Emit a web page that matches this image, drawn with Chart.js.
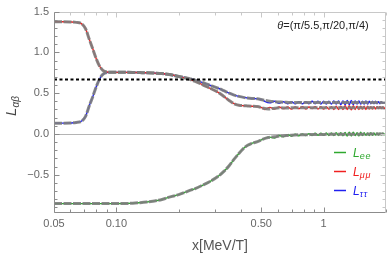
<!DOCTYPE html>
<html>
<head>
<meta charset="utf-8">
<script src="https://cdn.jsdelivr.net/npm/chart.js@4.4.1/dist/chart.umd.min.js"></script>
<style>
  html, body { margin: 0; padding: 0; background: #fff; }
  #wrap { width: 390px; height: 257px; }
</style>
</head>
<body>
<div id="wrap"><canvas id="chart" width="390" height="257"></canvas></div>
<script>
// smooth (averaged) curves, x in MeV/T
const xSmooth = [0.05, 0.055, 0.06, 0.064, 0.068, 0.071, 0.074, 0.077, 0.08, 0.083,
  0.086, 0.089, 0.092, 0.096, 0.1, 0.11, 0.12, 0.13, 0.14, 0.15,
  0.166, 0.18, 0.2, 0.215, 0.228, 0.24, 0.26, 0.28, 0.31, 0.33,
  0.35, 0.37, 0.39, 0.41, 0.43, 0.45, 0.48, 0.51, 0.54, 0.58,
  0.62, 0.66, 0.7, 0.8, 0.9, 1.0, 1.2, 1.4, 1.6, 1.8, 2.0];
const muSmooth = [1.375, 1.375, 1.373, 1.368, 1.35, 1.29, 1.16, 1.04, 0.92, 0.83,
  0.78, 0.762, 0.757, 0.756, 0.755, 0.755, 0.754, 0.752, 0.75, 0.747,
  0.74, 0.728, 0.705, 0.685, 0.665, 0.645, 0.605, 0.565, 0.51, 0.46,
  0.41, 0.37, 0.352, 0.346, 0.343, 0.34, 0.335, 0.315, 0.305, 0.315,
  0.32, 0.318, 0.32, 0.32, 0.32, 0.32, 0.32, 0.32, 0.32, 0.32, 0.32];
const tauSmooth = [0.132, 0.132, 0.134, 0.14, 0.158, 0.215, 0.345, 0.46, 0.58, 0.675,
  0.73, 0.75, 0.755, 0.756, 0.755, 0.755, 0.754, 0.752, 0.75, 0.747,
  0.74, 0.728, 0.705, 0.69, 0.675, 0.66, 0.63, 0.6, 0.56, 0.53,
  0.5, 0.475, 0.46, 0.448, 0.44, 0.435, 0.43, 0.415, 0.405, 0.395,
  0.39, 0.388, 0.385, 0.385, 0.385, 0.385, 0.385, 0.385, 0.385, 0.385, 0.385];
const eeSmooth = [-0.855, -0.855, -0.855, -0.855, -0.855, -0.855, -0.855, -0.855, -0.855, -0.855,
  -0.855, -0.855, -0.855, -0.855, -0.855, -0.853, -0.85, -0.843, -0.835, -0.825,
  -0.805, -0.775, -0.745, -0.715, -0.69, -0.67, -0.63, -0.59, -0.52, -0.46,
  -0.39, -0.31, -0.24, -0.18, -0.14, -0.115, -0.095, -0.065, -0.045, -0.035,
  -0.025, -0.02, -0.015, -0.01, -0.008, -0.006, -0.005, -0.004, -0.003, -0.002, -0.002];

// oscillating tail of the coloured curves
const xTail = [0.52, 0.55, 0.58, 0.61, 0.64, 0.67, 0.70, 0.73, 0.76, 0.79,
  0.82, 0.85, 0.88, 0.91, 0.94, 0.97, 1.00, 1.03, 1.06, 1.09,
  1.12, 1.15, 1.18, 1.21, 1.24, 1.27, 1.30, 1.33, 1.36, 1.39,
  1.42, 1.45, 1.48, 1.51, 1.54, 1.57, 1.60, 1.63, 1.66, 1.69,
  1.72, 1.75, 1.78, 1.81, 1.84, 1.87, 1.90, 1.93, 1.96, 1.99];
const eeTail = [-0.055, -0.04, -0.05, -0.02, -0.035, -0.01, -0.028, -0.004, -0.024, 0.0,
  -0.02, 0.004, -0.02, 0.008, -0.018, 0.01, -0.018, 0.012, -0.02, 0.012,
  -0.02, 0.015, -0.02, 0.015, -0.022, 0.018, -0.025, 0.02, -0.025, 0.02,
  -0.02, 0.015, -0.025, 0.02, -0.02, 0.015, -0.018, 0.012, -0.02, 0.015,
  -0.018, 0.012, -0.015, 0.012, -0.015, 0.01, -0.012, 0.01, -0.01, 0.006];
const muTail = [0.30, 0.325, 0.305, 0.33, 0.31, 0.33, 0.305, 0.33, 0.31, 0.335,
  0.305, 0.33, 0.31, 0.335, 0.305, 0.335, 0.305, 0.335, 0.305, 0.335,
  0.30, 0.34, 0.30, 0.34, 0.30, 0.345, 0.30, 0.345, 0.295, 0.345,
  0.30, 0.34, 0.30, 0.34, 0.305, 0.34, 0.30, 0.34, 0.305, 0.335,
  0.305, 0.335, 0.305, 0.335, 0.31, 0.335, 0.31, 0.33, 0.31, 0.33];
const tauTail = [0.40, 0.38, 0.40, 0.375, 0.395, 0.37, 0.395, 0.37, 0.395, 0.37,
  0.395, 0.37, 0.40, 0.37, 0.40, 0.365, 0.40, 0.365, 0.40, 0.365,
  0.405, 0.365, 0.405, 0.36, 0.405, 0.36, 0.41, 0.36, 0.41, 0.36,
  0.405, 0.365, 0.405, 0.365, 0.40, 0.365, 0.405, 0.365, 0.40, 0.37,
  0.40, 0.37, 0.40, 0.37, 0.395, 0.37, 0.395, 0.375, 0.395, 0.375];

const dottedLevel = 0.667;
const xMin = 0.05, xMax = 2;
const yMin = -0.97, yMax = 1.5;
const xTicks = [0.05, 0.06, 0.07, 0.08, 0.09, 0.1, 0.2, 0.3, 0.4, 0.5, 0.6, 0.7, 0.8, 0.9, 1, 2];
const xMajor = [0.05, 0.1, 0.5, 1];
const xMajorLabels = ['0.05', '0.10', '0.50', '1'];
const yTicks = [-0.9, -0.8, -0.7, -0.6, -0.5, -0.4, -0.3, -0.2, -0.1, 0,
  0.1, 0.2, 0.3, 0.4, 0.5, 0.6, 0.7, 0.8, 0.9, 1.0, 1.1, 1.2, 1.3, 1.4, 1.5];
const yMajor = [-0.5, 0, 0.5, 1, 1.5];
const yMajorLabels = ['\u22120.5', '0.0', '0.5', '1.0', '1.5'];
const seriesSubs = ['ee', '\u03bc\u03bc', '\u03c4\u03c4'];
const seriesColors = ['#2ea82e', '#f02020', '#2020f0'];
const annotation = ['\u03b8', '=(\u03c0/5.5,\u03c0/20,\u03c0/4)'];

const FONT = '"Liberation Sans", Arial, sans-serif';

function findIdx(list, v) {
  return list.findIndex(t => Math.abs(t - v) < 1e-9);
}

function coloured(smooth, tail) {
  const pts = [];
  xSmooth.forEach((x, i) => { if (x < xTail[0]) pts.push({ x: x, y: smooth[i] }); });
  xTail.forEach((x, i) => pts.push({ x: x, y: tail[i] }));
  return pts;
}
function smooth(vals) {
  return xSmooth.map((x, i) => ({ x: x, y: vals[i] }));
}

const grayStyle = {
  borderColor: 'rgba(125,125,125,0.9)', borderWidth: 3, borderDash: [8, 1.5],
  pointRadius: 0, cubicInterpolationMode: 'monotone', order: 1
};
const colStyle = (c) => ({ borderColor: c, borderWidth: 1.4, pointRadius: 0, cubicInterpolationMode: 'monotone', order: 2 });

const datasets = [
  { data: [{ x: xMin, y: dottedLevel }, { x: xMax, y: dottedLevel }], borderColor: '#000', borderWidth: 2,
    borderDash: [3, 2.5], pointRadius: 0, order: 0 },
  Object.assign({ data: smooth(eeSmooth) }, grayStyle),
  Object.assign({ data: smooth(muSmooth) }, grayStyle),
  Object.assign({ data: smooth(tauSmooth) }, grayStyle),
  Object.assign({ data: coloured(eeSmooth, eeTail) }, colStyle(seriesColors[0])),
  Object.assign({ data: coloured(muSmooth, muTail) }, colStyle(seriesColors[1])),
  Object.assign({ data: coloured(tauSmooth, tauTail) }, colStyle(seriesColors[2]))
];

const framePlugin = {
  id: 'frame',
  beforeDatasetsDraw(chart) {
    const { ctx, chartArea: a, scales: { y } } = chart;
    const y0 = Math.round(y.getPixelForValue(0)) + 0.5;
    ctx.save();
    ctx.strokeStyle = '#b4b4b4';
    ctx.lineWidth = 1;
    ctx.beginPath(); ctx.moveTo(a.left, y0); ctx.lineTo(a.right, y0); ctx.stroke();
    ctx.restore();
  },
  afterDatasetsDraw(chart) {
    const { ctx, chartArea: a, scales: { x, y } } = chart;
    const L = Math.round(a.left) + 0.5, R = Math.round(a.right) - 0.5;
    const T = Math.round(a.top) + 0.5, B = Math.round(a.bottom) - 0.5;
    ctx.save();
    ctx.lineWidth = 1;
    // light top and right frame
    ctx.strokeStyle = '#c8c8c8';
    ctx.beginPath(); ctx.moveTo(L, T); ctx.lineTo(R, T); ctx.lineTo(R, B); ctx.stroke();
    xTicks.forEach(v => {
      const px = Math.round(x.getPixelForValue(v)) + 0.5;
      const len = findIdx(xMajor, v) >= 0 ? 5 : 3;
      ctx.beginPath(); ctx.moveTo(px, T); ctx.lineTo(px, T + len); ctx.stroke();
    });
    yTicks.forEach(v => {
      const py = Math.round(y.getPixelForValue(v)) + 0.5;
      const len = findIdx(yMajor, v) >= 0 ? 5 : 3;
      ctx.beginPath(); ctx.moveTo(R, py); ctx.lineTo(R - len, py); ctx.stroke();
    });
    // darker left and bottom axes
    ctx.strokeStyle = '#8c8c8c';
    ctx.beginPath(); ctx.moveTo(L, T); ctx.lineTo(L, B); ctx.lineTo(R, B); ctx.stroke();
    xTicks.forEach(v => {
      const px = Math.round(x.getPixelForValue(v)) + 0.5;
      const len = findIdx(xMajor, v) >= 0 ? 5 : 3;
      ctx.beginPath(); ctx.moveTo(px, B); ctx.lineTo(px, B - len); ctx.stroke();
    });
    yTicks.forEach(v => {
      const py = Math.round(y.getPixelForValue(v)) + 0.5;
      const len = findIdx(yMajor, v) >= 0 ? 5 : 3;
      ctx.beginPath(); ctx.moveTo(L, py); ctx.lineTo(L + len, py); ctx.stroke();
    });

    // theta annotation
    ctx.fillStyle = '#222';
    ctx.textBaseline = 'alphabetic';
    ctx.font = 'italic 11px ' + FONT;
    const w1 = ctx.measureText(annotation[0]).width;
    ctx.font = '11px ' + FONT;
    const w2 = ctx.measureText(annotation[1]).width;
    let tx = 323 - (w1 + w2) / 2;
    ctx.font = 'italic 11px ' + FONT;
    ctx.fillText(annotation[0], tx, 29);
    ctx.font = '11px ' + FONT;
    ctx.fillText(annotation[1], tx + w1, 29);

    // legend
    seriesSubs.forEach((s, i) => {
      const ly = 152 + 19 * i;
      ctx.strokeStyle = seriesColors[i];
      ctx.lineWidth = 1.5;
      ctx.beginPath(); ctx.moveTo(334, ly + 0.5); ctx.lineTo(346, ly + 0.5); ctx.stroke();
      ctx.fillStyle = seriesColors[i];
      ctx.font = 'italic 12px ' + FONT;
      ctx.fillText('L', 353, ly + 4.5);
      let cx = 353 + ctx.measureText('L').width;
      ctx.font = 'italic 9px ' + FONT;
      for (const ch of s) {
        ctx.fillText(ch, cx, ly + 7);
        cx += ctx.measureText(ch).width + 0.8;
      }
    });

    // y title
    ctx.fillStyle = '#444';
    ctx.save();
    ctx.translate(16, 106);
    ctx.rotate(-Math.PI / 2);
    ctx.font = 'italic 15px ' + FONT;
    const wL = ctx.measureText('L').width;
    ctx.font = 'italic 10px ' + FONT;
    const wS = ctx.measureText('\u03b1\u03b2').width;
    const sx = -(wL + wS) / 2;
    ctx.font = 'italic 15px ' + FONT;
    ctx.fillText('L', sx, 0);
    ctx.font = 'italic 10px ' + FONT;
    ctx.fillText('\u03b1\u03b2', sx + wL, 3);
    ctx.restore();

    // x title
    ctx.fillStyle = '#555';
    ctx.font = '14px ' + FONT;
    ctx.textAlign = 'center';
    ctx.fillText('x[MeV/T]', 220, 250);
    ctx.restore();
  }
};

new Chart(document.getElementById('chart'), {
  type: 'line',
  data: { datasets: datasets },
  options: {
    responsive: false,
    animation: false,
    devicePixelRatio: 1,
    layout: { padding: { top: 7, right: 2, left: 0, bottom: 0 } },
    plugins: { legend: { display: false }, tooltip: { enabled: false } },
    scales: {
      x: {
        type: 'logarithmic', min: xMin, max: xMax,
        grid: { display: false, drawTicks: false }, border: { display: false },
        afterBuildTicks: s => { s.ticks = xTicks.map(v => ({ value: v })); },
        afterFit: s => { s.height = 44; },
        ticks: {
          autoSkip: false, maxRotation: 0, padding: 4, color: '#666',
          font: { size: 11, family: FONT },
          callback: v => { const i = findIdx(xMajor, v); return i >= 0 ? xMajorLabels[i] : ''; }
        }
      },
      y: {
        type: 'linear', min: yMin, max: yMax,
        grid: { display: false, drawTicks: false }, border: { display: false },
        afterBuildTicks: s => { s.ticks = yTicks.map(v => ({ value: v })); },
        afterFit: s => { s.width = 54; },
        ticks: {
          autoSkip: false, padding: 5, color: '#666',
          font: { size: 11, family: FONT },
          callback: v => { const i = findIdx(yMajor, v); return i >= 0 ? yMajorLabels[i] : ''; }
        }
      }
    }
  },
  plugins: [framePlugin]
});
</script>
</body>
</html>
